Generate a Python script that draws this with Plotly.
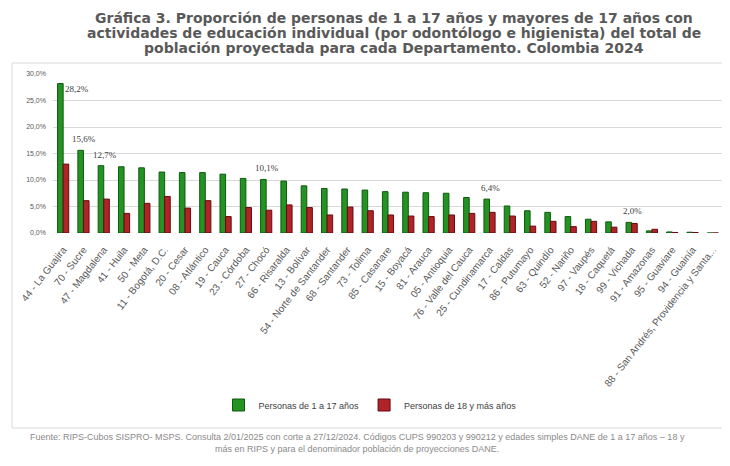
import plotly.graph_objects as go

# ---------------- data ----------------
departamentos = [
    "44 - La Guajira", "70 - Sucre", "47 - Magdalena", "41 - Huila", "50 - Meta",
    "11 - Bogotá, D.C.", "20 - Cesar", "08 - Atlántico", "19 - Cauca", "23 - Córdoba",
    "27 - Chocó", "66 - Risaralda", "13 - Bolívar", "54 - Norte de Santander",
    "68 - Santander", "73 - Tolima", "85 - Casanare", "15 - Boyacá", "81 - Arauca",
    "05 - Antioquia", "76 - Valle del Cauca", "25 - Cundinamarca", "17 - Caldas",
    "86 - Putumayo", "63 - Quindío", "52 - Nariño", "97 - Vaupés", "18 - Caquetá",
    "99 - Vichada", "91 - Amazonas", "95 - Guaviare", "94 - Guainía",
    "88 - San Andrés, Providencia y Santa...",
]
personas_1_17 = [28.2, 15.6, 12.7, 12.5, 12.3, 11.5, 11.4, 11.4, 11.1, 10.3,
                 10.1, 9.8, 8.9, 8.4, 8.3, 8.1, 7.8, 7.7, 7.6, 7.5,
                 6.7, 6.4, 5.1, 4.2, 3.9, 3.1, 2.6, 2.1, 2.0, 0.4,
                 0.2, 0.15, 0.0]
personas_18_mas = [13.0, 6.1, 6.4, 3.7, 5.6, 6.9, 4.7, 6.1, 3.1, 4.8,
                   4.3, 5.3, 4.8, 3.4, 4.9, 4.2, 3.4, 3.2, 3.1, 3.4,
                   3.7, 3.9, 3.2, 1.3, 2.2, 1.2, 2.2, 1.1, 1.8, 0.7,
                   0.1, 0.1, 0.0]
etiquetas_cat = ["44 - La Guajira", "70 - Sucre", "47 - Magdalena", "27 - Chocó",
                 "25 - Cundinamarca", "99 - Vichada"]
etiquetas_txt = ["28,2%", "15,6%", "12,7%", "10,1%", "6,4%", "2,0%"]
y_tickvals = [0, 5, 10, 15, 20, 25, 30]
y_ticktext = ["0,0%", "5,0%", "10,0%", "15,0%", "20,0%", "25,0%", "30,0%"]

titulo = [
    "Gráfica 3. Proporción de personas de 1 a 17 años y mayores de 17 años con",
    "actividades de educación individual (por odontólogo e higienista) del total de",
    "población proyectada para cada Departamento. Colombia 2024",
]
fuente = [
    "Fuente: RIPS-Cubos SISPRO- MSPS. Consulta 2/01/2025 con corte a 27/12/2024. "
    "Códigos CUPS 990203 y 990212 y edades simples DANE de 1 a 17 años – 18 y",
    "más en RIPS y para el denominador población de proyecciones DANE.",
]

# ---------------- layout geometry ----------------
# The page body has an 8px margin, so the figure starts at (8, 8) of the window.
OFF = 8
W, H = 730 - OFF, 466 - OFF
PLOT_L, PLOT_R, PLOT_T, PLOT_B = 53, 723, 74, 233   # window pixels
ML, MR = PLOT_L - OFF, 730 - PLOT_R
MT, MB = PLOT_T - OFF, 466 - PLOT_B
PW, PH = W - ML - MR, H - MT - MB


def px_x(px):
    return (px - OFF - ML) / PW


def px_y(py):
    return (H - MB - (py - OFF)) / PH


fig = go.Figure()
fig.add_trace(go.Bar(
    x=departamentos, y=personas_1_17, name="Personas de 1 a 17 años",
    marker=dict(color="#249324", line=dict(color="#0d5a0d", width=1)),
))
fig.add_trace(go.Bar(
    x=departamentos, y=personas_18_mas, name="Personas de 18 y más años",
    marker=dict(color="#b02328", line=dict(color="#650b0f", width=1)),
))

annotations = []
for c, t in zip(etiquetas_cat, etiquetas_txt):
    v = personas_1_17[departamentos.index(c)]
    first = c == departamentos[0]
    annotations.append(dict(
        x=c, y=v, xref="x", yref="y", text=t, showarrow=False,
        xshift=14 if first else 1, yshift=-5 if first else 11,
        font=dict(family="Liberation Serif", size=9, color="#404040"),
    ))

for line, ypx in zip(titulo, [18, 33, 48]):
    annotations.append(dict(
        x=px_x(394), y=px_y(ypx), xref="paper", yref="paper", text=line,
        showarrow=False, xanchor="center", yanchor="middle",
        font=dict(family="DejaVu Sans", size=14, color="#595959", weight="bold"),
    ))
for line, ypx in zip(fuente, [437, 449]):
    annotations.append(dict(
        x=px_x(357), y=px_y(ypx), xref="paper", yref="paper", text=line,
        showarrow=False, xanchor="center", yanchor="middle",
        font=dict(family="Liberation Sans", size=9, color="#8a8a8a"),
    ))

fig.update_layout(
    width=W, height=H,
    margin=dict(l=ML, r=MR, t=MT, b=MB, autoexpand=False),
    paper_bgcolor="white", plot_bgcolor="white",
    barmode="group", bargap=0.45, bargroupgap=0.0,
    font=dict(family="Liberation Sans", color="#404040"),
    showlegend=True,
    legend=dict(
        orientation="h", x=px_x(370), xanchor="center",
        y=px_y(405), yanchor="middle",
        font=dict(size=9, color="#404040"),
        itemwidth=30, tracegroupgap=0,
    ),
    annotations=annotations,
    shapes=[dict(
        type="rect", xref="paper", yref="paper",
        x0=px_x(12), x1=px_x(728), y0=px_y(428), y1=px_y(63),
        line=dict(color="#d9d9d9", width=1), fillcolor="rgba(0,0,0,0)",
        layer="below",
    )],
)
fig.update_xaxes(
    tickangle=-52, tickfont=dict(size=10, color="#595959"), ticklabelstandoff=8,
    showgrid=False, showline=False, ticks="",
)
fig.update_yaxes(
    range=[0, 30], tickvals=y_tickvals, ticktext=y_ticktext,
    tickfont=dict(size=7, color="#595959"), ticklabelstandoff=6,
    showgrid=True, gridcolor="#d9d9d9", gridwidth=1,
    zeroline=False, showline=False, ticks="",
)

fig.write_html("out.html")
